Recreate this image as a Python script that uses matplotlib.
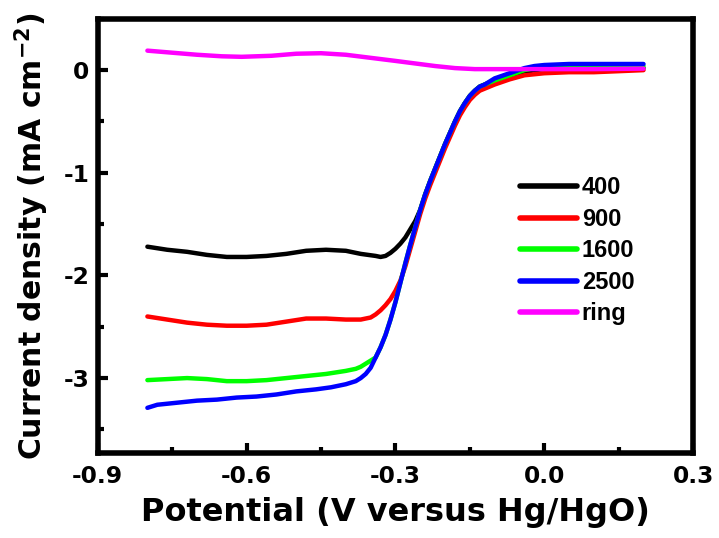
import matplotlib
matplotlib.use("Agg")
import matplotlib.pyplot as plt
from matplotlib.ticker import MultipleLocator

plt.rcParams['font.family'] = ['DejaVu Sans']
plt.rcParams['font.weight'] = 'bold'
plt.rcParams['axes.unicode_minus'] = False
plt.rcParams['mathtext.fontset'] = 'dejavusans'
plt.rcParams['mathtext.default'] = 'bf'

# shared steep part of the ORR wave
x_wave = [-0.34, -0.33, -0.32, -0.31, -0.30, -0.29, -0.28, -0.27, -0.26, -0.25, -0.24, -0.23,
          -0.22, -0.21, -0.20, -0.19, -0.18, -0.17, -0.16, -0.15, -0.14, -0.13, -0.12]
y_wave = [-2.80, -2.70, -2.58, -2.43, -2.26, -2.07, -1.88, -1.70, -1.53, -1.36, -1.21, -1.08,
          -0.96, -0.84, -0.72, -0.61, -0.50, -0.40, -0.32, -0.25, -0.20, -0.16, -0.14]

# 400 rpm
x400 = [-0.80, -0.76, -0.72, -0.68, -0.64, -0.60, -0.56, -0.52, -0.48, -0.44, -0.40, -0.37,
        -0.34, -0.33, -0.32, -0.31, -0.30, -0.29, -0.28, -0.27, -0.26, -0.25, -0.24, -0.23,
        -0.22, -0.21, -0.20, -0.19, -0.18, -0.17, -0.16, -0.15, -0.14, -0.13, -0.12,
        -0.10, -0.07, -0.04, -0.02, 0.00, 0.05, 0.10, 0.15, 0.20]
y400 = [-1.72, -1.75, -1.77, -1.80, -1.82, -1.82, -1.81, -1.79, -1.76, -1.75, -1.76, -1.79,
        -1.81, -1.82, -1.81, -1.78, -1.74, -1.69, -1.63, -1.55, -1.47, -1.36, -1.21, -1.08,
        -0.96, -0.84, -0.72, -0.61, -0.50, -0.40, -0.32, -0.25, -0.20, -0.16, -0.14,
        -0.10, -0.06, -0.02, 0.00, 0.01, 0.02, 0.02, 0.02, 0.02]

# 900 rpm
x900 = [-0.80, -0.76, -0.72, -0.68, -0.64, -0.60, -0.56, -0.52, -0.48, -0.44, -0.40, -0.37,
        -0.35, -0.34, -0.33, -0.32, -0.31, -0.30, -0.29, -0.28, -0.27, -0.26, -0.25, -0.24,
        -0.23, -0.22, -0.21, -0.20, -0.19, -0.18, -0.17, -0.16, -0.15, -0.14, -0.13, -0.12,
        -0.10, -0.07, -0.04, -0.02, 0.00, 0.05, 0.10, 0.15, 0.20]
y900 = [-2.40, -2.43, -2.46, -2.48, -2.49, -2.49, -2.48, -2.45, -2.42, -2.42, -2.43, -2.43,
        -2.41, -2.38, -2.34, -2.29, -2.23, -2.15, -2.05, -1.91, -1.74, -1.57, -1.40, -1.25,
        -1.12, -1.00, -0.88, -0.76, -0.65, -0.54, -0.44, -0.36, -0.29, -0.24, -0.20, -0.18,
        -0.14, -0.09, -0.05, -0.04, -0.03, -0.02, -0.02, -0.01, 0.00]

# 1600 rpm
x1600 = [-0.80, -0.76, -0.72, -0.68, -0.64, -0.60, -0.56, -0.52, -0.48, -0.44, -0.40, -0.38,
         -0.37, -0.36, -0.35] + x_wave + [-0.10, -0.07, -0.04, -0.02, 0.00, 0.05, 0.10, 0.15, 0.20]
y1600 = [-3.02, -3.01, -3.00, -3.01, -3.03, -3.03, -3.02, -3.00, -2.98, -2.96, -2.93, -2.91,
         -2.89, -2.86, -2.83] + y_wave + [-0.10, -0.05, 0.00, 0.02, 0.03, 0.04, 0.04, 0.04, 0.04]

# 2500 rpm
x2500 = [-0.80, -0.78, -0.74, -0.70, -0.66, -0.62, -0.58, -0.54, -0.50, -0.46, -0.43, -0.40,
         -0.38, -0.37, -0.36, -0.35] + x_wave + [-0.10, -0.07, -0.04, -0.02, 0.00, 0.05, 0.10, 0.15, 0.20]
y2500 = [-3.29, -3.26, -3.24, -3.22, -3.21, -3.19, -3.18, -3.16, -3.13, -3.11, -3.09, -3.06,
         -3.03, -3.00, -2.96, -2.90] + y_wave + [-0.08, -0.03, 0.02, 0.04, 0.05, 0.06, 0.06, 0.06, 0.06]

# ring current
xring = [-0.80, -0.75, -0.70, -0.65, -0.61, -0.55, -0.50, -0.45, -0.40, -0.35, -0.30, -0.26,
         -0.22, -0.18, -0.14, -0.10, 0.00, 0.10, 0.20]
yring = [0.19, 0.17, 0.15, 0.135, 0.13, 0.14, 0.16, 0.165, 0.15, 0.12, 0.09, 0.065,
         0.04, 0.02, 0.01, 0.01, 0.01, 0.01, 0.015]

series = [
    (x400, y400, '400', '#000000'),
    (x900, y900, '900', '#ff0000'),
    (x1600, y1600, '1600', '#00ff00'),
    (x2500, y2500, '2500', '#0000ff'),
    (xring, yring, 'ring', '#ff00ff'),
]

fig = plt.figure(figsize=(7.19, 5.38), dpi=100)
ax = fig.add_axes([0.136, 0.158, 0.828, 0.807])

for xs, ys, lab, col in series:
    ax.plot(xs, ys, color=col, lw=3.2, label=lab, solid_capstyle='round')

ax.set_xlim(-0.9, 0.3)
ax.set_ylim(-3.73, 0.50)
ax.xaxis.set_minor_locator(MultipleLocator(0.15))
ax.yaxis.set_major_locator(MultipleLocator(1))
ax.yaxis.set_minor_locator(MultipleLocator(0.5))
ax.set_xticks([-0.9, -0.6, -0.3, 0.0, 0.3])
ax.set_xticklabels(['-0.9', '-0.6', '-0.3', '0.0', '0.3'])

for sp in ax.spines.values():
    sp.set_linewidth(4)
ax.tick_params(which='major', direction='in', length=7, width=3, labelsize=16.8, pad=6)
ax.tick_params(which='minor', direction='in', length=4, width=3)
ax.tick_params(axis='x', pad=9)

ax.set_xlabel('Potential (V versus Hg/HgO)', fontsize=23, fontweight='bold', labelpad=6)
ax.set_ylabel('Current density (mA cm$^{-2}$)', fontsize=21.5, fontweight='bold', labelpad=9)

leg = ax.legend(loc='upper left', bbox_to_anchor=(0.71, 0.637), frameon=False,
                prop={'family': 'Liberation Sans', 'weight': 'bold', 'size': 17},
                handlelength=2.4, handletextpad=0.2, labelspacing=0.36,
                borderpad=0, borderaxespad=0)
for line in leg.get_lines():
    line.set_linewidth(4)

fig.savefig('out.png', dpi=100)
